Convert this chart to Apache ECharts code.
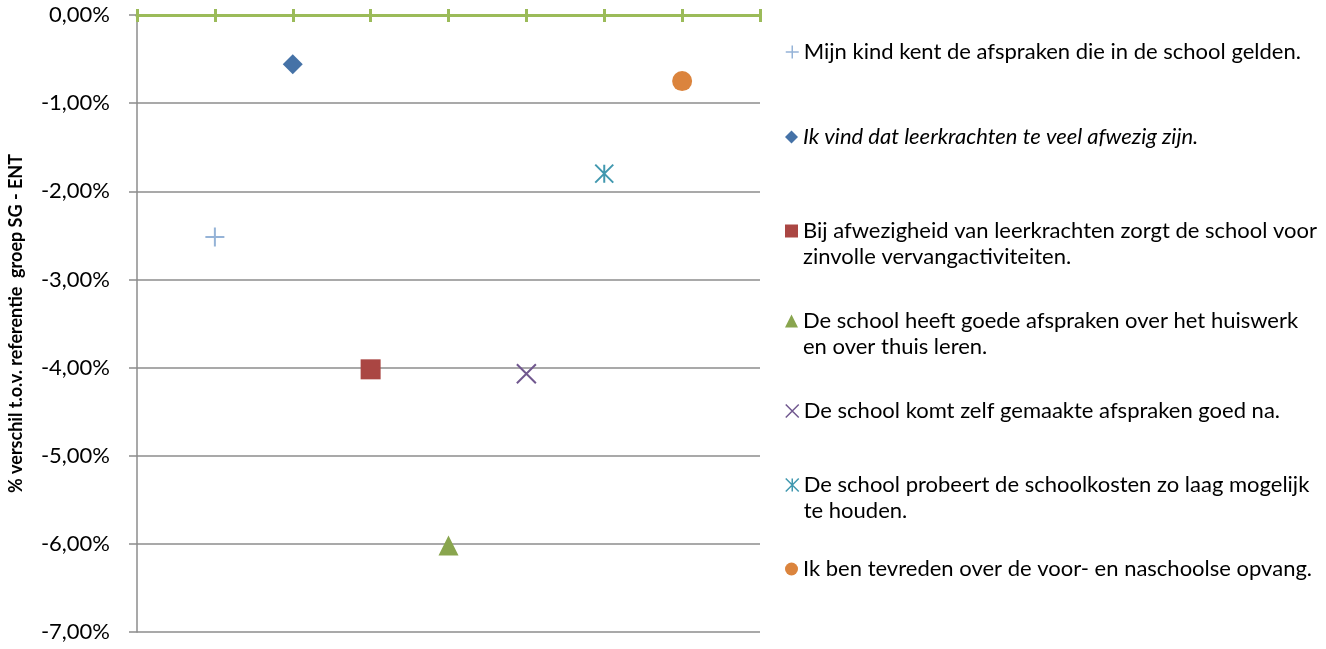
<!DOCTYPE html>
<html>
<head>
<meta charset="utf-8">
<script src="https://cdn.jsdelivr.net/npm/echarts@6/dist/echarts.min.js"></script>
<style>
html, body { margin: 0; padding: 0; background: #fff; }
#chart { width: 1326px; height: 649px; }
</style>
</head>
<body>
<div id="chart"></div>
<script>
// statements, as wrapped in the legend
var legendLines = [
    ['Mijn kind kent de afspraken die in de school gelden.'],
    ['Ik vind dat leerkrachten te veel afwezig zijn.'],
    ['Bij afwezigheid van leerkrachten zorgt de school voor', 'zinvolle vervangactiviteiten.'],
    ['De school heeft goede afspraken over het huiswerk', 'en over thuis leren.'],
    ['De school komt zelf gemaakte afspraken goed na.'],
    ['De school probeert de schoolkosten zo laag mogelijk', 'te houden.'],
    ['Ik ben tevreden over de voor- en naschoolse opvang.']
];
var positions = [1, 2, 3, 4, 5, 6, 7];
var values = [-2.52, -0.56, -4.02, -6.02, -4.07, -1.80, -0.75];
var yMin = -7, yMax = 0, yStep = 1;
var xMin = 0, xMax = 8, xStep = 1;
var yName = '% verschil t.o.v. referentie  groep SG - ENT';

// marker styles per series
var markers = [
    { symbol: 'path://M0,5L10,5M5,0L5,10', size: 19, color: '#95B3D7', stroke: true },
    { symbol: 'diamond', size: 20, color: '#4572A7' },
    { symbol: 'rect', size: 20, color: '#AA4643' },
    { symbol: 'triangle', size: 20, color: '#89A54E' },
    { symbol: 'path://M0,0L10,10M10,0L0,10', size: 19, color: '#71588F', stroke: true },
    { symbol: 'path://M0,0L10,10M10,0L0,10M5,0L5,10', size: 18, color: '#4198AF', stroke: true },
    { symbol: 'circle', size: 20, color: '#DB843D' }
];
var legendTops = [39, 124, 192, 282, 398, 446, 556];

function itemStyleFor(m, width) {
    if (m.stroke) {
        return { color: 'rgba(0,0,0,0)', borderColor: m.color, borderWidth: width, opacity: 1 };
    }
    return { color: m.color, opacity: 1 };
}

var names = legendLines.map(function (l) { return l.join(' '); });

var series = [];
var legends = [];
for (var i = 0; i < names.length; i++) {
    var m = markers[i];
    series.push({
        name: names[i],
        type: 'scatter',
        xAxisIndex: 0,
        symbol: m.symbol,
        symbolSize: m.size,
        itemStyle: itemStyleFor(m, 2),
        data: [[positions[i], values[i]]]
    });
    (function (lines) {
        legends.push({
            left: 785,
            top: legendTops[i],
            padding: 0,
            itemWidth: 13,
            itemHeight: 13,
            itemGap: 7,
            selectedMode: false,
            textStyle: {
                fontFamily: 'Lato',
                fontSize: 22,
                lineHeight: 26,
                color: '#000'
            },
            formatter: function () {
                return lines.length > 1 ? ' \n' + lines.join('\n') : lines[0];
            },
            data: [{
                name: names[i],
                icon: m.symbol,
                itemStyle: itemStyleFor(m, 1.5),
                textStyle: i === 1 ? { fontStyle: 'italic' } : {}
            }]
        });
    })(legendLines[i]);
}

var dom = document.getElementById('chart');
var myChart = echarts.init(dom);
var option = {
    backgroundColor: '#fff',
    animation: false,
    grid: {
        left: 137,
        right: 566,
        top: 15,
        bottom: 17
    },
    legend: legends,
    xAxis: [
        {
            type: 'value',
            min: xMin,
            max: xMax,
            interval: xStep,
            position: 'top',
            axisLine: { onZero: false, lineStyle: { color: '#9BBB59', width: 3 } },
            axisTick: { show: true, inside: true, length: 7, lineStyle: { color: '#9BBB59', width: 3 } },
            axisLabel: { show: false },
            splitLine: { show: false }
        },
        {
            type: 'value',
            min: xMin,
            max: xMax,
            interval: xStep,
            position: 'top',
            axisLine: { onZero: false, lineStyle: { color: '#9BBB59', width: 3 } },
            axisTick: { show: true, inside: false, length: 6, lineStyle: { color: '#9BBB59', width: 3 } },
            axisLabel: { show: false },
            splitLine: { show: false }
        }
    ],
    yAxis: {
        type: 'value',
        min: yMin,
        max: yMax,
        interval: yStep,
        name: yName,
        nameLocation: 'middle',
        nameGap: 112,
        nameTextStyle: {
            fontFamily: 'Lato',
            fontWeight: 'bold',
            fontSize: 18,
            color: '#000'
        },
        axisLine: { show: true, lineStyle: { color: '#8C8C8C', width: 1.5 } },
        axisTick: { show: true, length: 8, lineStyle: { color: '#8C8C8C', width: 1.5 } },
        axisLabel: {
            margin: 27,
            fontFamily: 'Lato',
            fontSize: 22,
            color: '#000',
            formatter: function (v) {
                if (Math.abs(v) < 1e-9) v = 0;
                return v.toFixed(2).replace('.', ',') + '%';
            }
        },
        splitLine: { show: true, lineStyle: { color: '#8C8C8C', width: 1.5 } }
    },
    series: series
};
if (option && typeof option === "object") {
    myChart.setOption(option, true);
}
</script>
</body>
</html>
